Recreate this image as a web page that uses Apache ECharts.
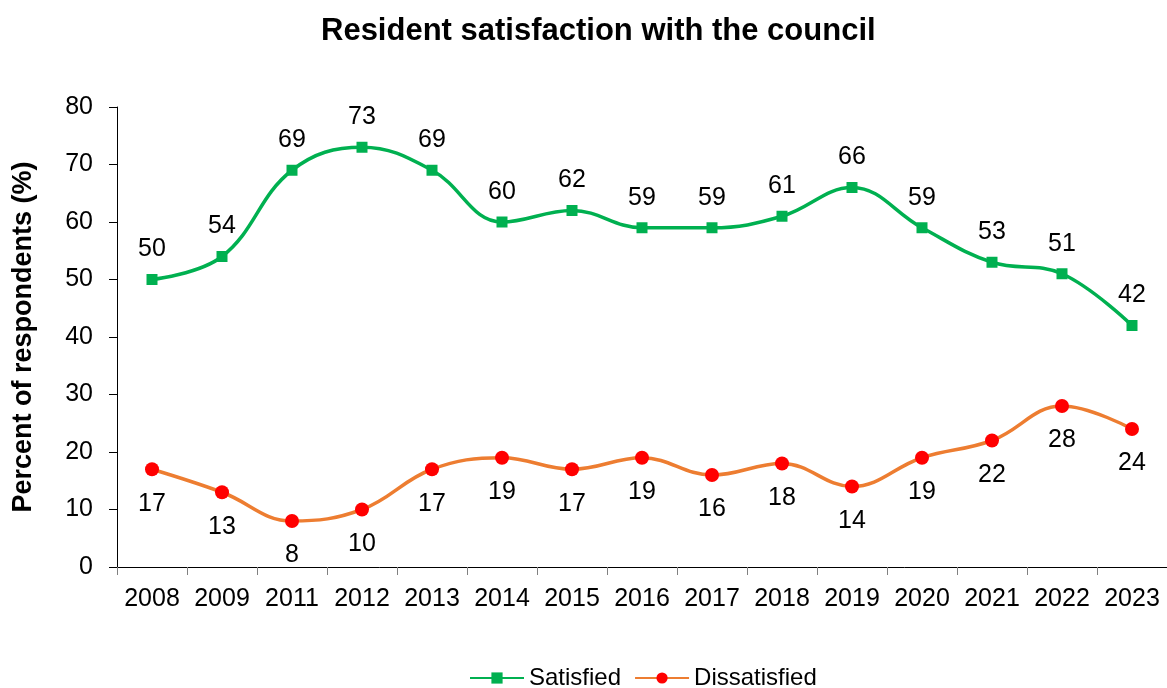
<!DOCTYPE html>
<html>
<head>
<meta charset="utf-8">
<script src="https://cdn.jsdelivr.net/npm/echarts@6/dist/echarts.min.js"></script>
<style>
  html, body { margin: 0; padding: 0; background: #fff; }
  #chart { width: 1167px; height: 688px; }
</style>
</head>
<body>
<div id="chart"></div>
<script>
// Survey years and shares of residents (%)
const years = ['2008', '2009', '2011', '2012', '2013', '2014', '2015', '2016', '2017', '2018', '2019', '2020', '2021', '2022', '2023'];
const satisfied = [50, 54, 69, 73, 69, 60, 62, 59, 59, 61, 66, 59, 53, 51, 42];
const dissatisfied = [17, 13, 8, 10, 17, 19, 17, 19, 16, 18, 14, 19, 22, 28, 24];
const yTicks = { min: 0, max: 80, interval: 10 };

const font = 'Arial, "Liberation Sans", sans-serif';
const chart = echarts.init(document.getElementById('chart'), null, { renderer: 'canvas' });

chart.setOption({
  backgroundColor: '#ffffff',
  animation: false,
  title: {
    text: 'Resident satisfaction with the council',
    left: 316,
    top: 11,
    textStyle: { fontFamily: font, fontSize: 31, fontWeight: 'bold', color: '#000' }
  },
  legend: {
    top: 661,
    left: 464,
    itemWidth: 54,
    itemHeight: 14,
    itemGap: 13,
    textStyle: { fontFamily: font, fontSize: 24, color: '#000' },
    data: ['Satisfied', 'Dissatisfied']
  },
  grid: { left: 117, right: 0, top: 107, bottom: 121, containLabel: false },
  xAxis: {
    type: 'category',
    data: years,
    boundaryGap: true,
    axisLine: { lineStyle: { color: '#000', width: 1 } },
    axisTick: { show: true, length: 8, interval: 0, lineStyle: { color: '#808080' } },
    axisLabel: { fontFamily: font, fontSize: 25, color: '#000', margin: 20, interval: 0 },
    splitLine: { show: false }
  },
  yAxis: {
    type: 'value',
    min: yTicks.min,
    max: yTicks.max,
    interval: yTicks.interval,
    name: 'Percent of respondents (%)',
    nameLocation: 'middle',
    nameGap: 80,
    nameTextStyle: { fontFamily: font, fontSize: 27, fontWeight: 'bold', color: '#000' },
    axisLine: { show: true, lineStyle: { color: '#000', width: 1 } },
    axisTick: { show: true, length: 8, lineStyle: { color: '#000' } },
    axisLabel: { fontFamily: font, fontSize: 25, color: '#000', margin: 24 },
    splitLine: { show: false }
  },
  series: [
    {
      name: 'Satisfied',
      type: 'line',
      data: satisfied,
      smooth: 0.4,
      symbol: 'rect',
      symbolSize: 11,
      lineStyle: { color: '#00B050', width: 3.5 },
      itemStyle: { color: '#00B050' },
      label: {
        show: true,
        position: 'top',
        distance: 12,
        fontFamily: font,
        fontSize: 25,
        color: '#000'
      }
    },
    {
      name: 'Dissatisfied',
      type: 'line',
      data: dissatisfied,
      smooth: 0.4,
      symbol: 'circle',
      symbolSize: 14,
      lineStyle: { color: '#ED7D31', width: 3.5 },
      itemStyle: { color: '#FF0000' },
      label: {
        show: true,
        position: 'bottom',
        distance: 15,
        fontFamily: font,
        fontSize: 25,
        color: '#000'
      }
    }
  ]
});
</script>
</body>
</html>
